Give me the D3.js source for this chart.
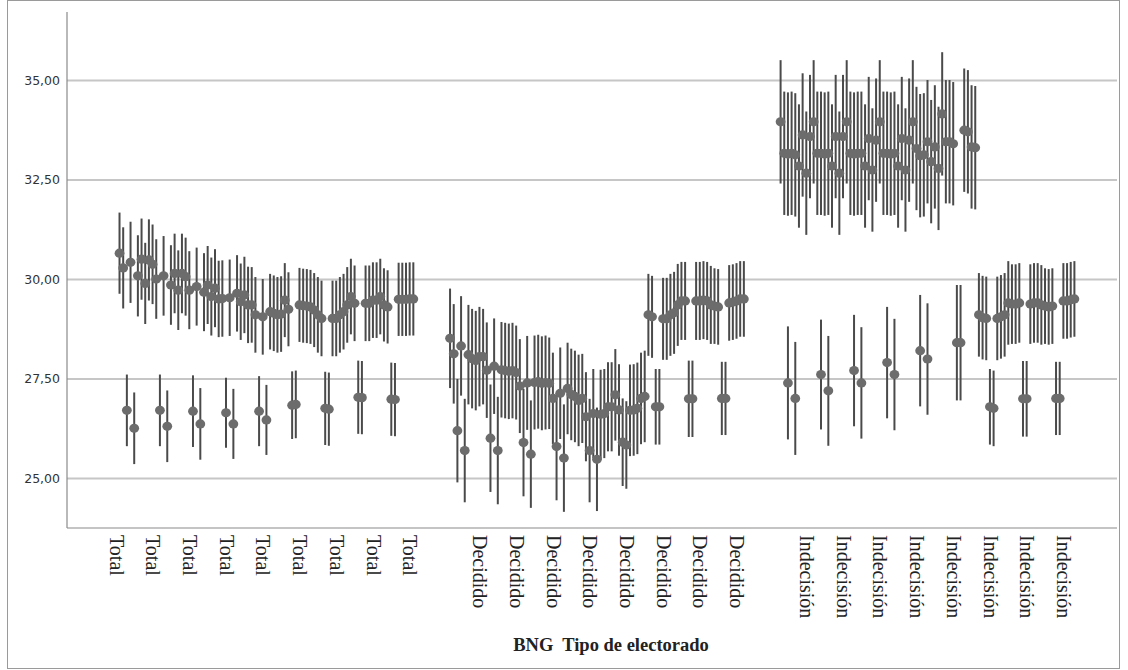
<!DOCTYPE html>
<html><head><meta charset="utf-8">
<script src="https://cdn.jsdelivr.net/npm/d3@7"></script>
<style>html,body{margin:0;padding:0;background:#fff}</style>
</head><body>
<script>
// ---------- DATA ----------
// Each group has 81 categories (9 blocks of 9), null = no bar.
const groupNames = ["Total", "Decidido", "Indecisión"];
const groupFirstCategory = [0, 90, 180];
const groupLabelCategories = [
  [0, 10, 20, 30, 40, 50, 60, 70, 80],
  [99, 109, 119, 129, 139, 149, 159, 169],
  [188, 198, 208, 218, 228, 238, 248, 258]
];
const yTicks = [25, 27.5, 30, 32.5, 35];
const axisTitle = "BNG  Tipo de electorado";

const totalUpper = [
  [30.65, 30.28, null, 30.42, null, 30.08, 30.50, 29.89, 30.48],
  [30.37, 30.00, null, 30.08, null, 29.85, 30.14, 29.72, 30.14],
  [30.06, 29.72, null, 29.81, null, 29.67, 29.85, 29.56, 29.77],
  [29.50, 29.51, null, 29.53, null, 29.64, 29.43, 29.60, 29.35],
  [29.35, 29.10, null, 29.05, null, 29.18, 29.14, 29.10, 29.12],
  [29.47, 29.24, null, null, 29.35, 29.33, 29.32, 29.30, 29.22],
  [29.10, 29.01, null, null, 29.01, 29.01, 29.10, 29.18, 29.35],
  [29.56, 29.39, null, null, 29.39, 29.39, 29.47, 29.47, 29.56],
  [29.35, 29.30, null, null, 29.49, 29.49, 29.49, 29.50, 29.50]
];
const totalLower = [
  [null, null, 26.70, null, 26.25, null, null, null, null],
  [null, null, 26.70, null, 26.30, null, null, null, null],
  [null, null, 26.68, null, 26.36, null, null, null, null],
  [null, null, 26.64, null, 26.36, null, null, null, null],
  [null, null, 26.68, null, 26.46, null, null, null, null],
  [null, null, 26.83, 26.85, null, null, null, null, null],
  [null, null, 26.75, 26.73, null, null, null, null, null],
  [null, null, 27.03, 27.02, null, null, null, null, null],
  [null, null, 26.98, 26.97, null, null, null, null, null]
];
const decididoUpper = [
  [28.51, 28.12, null, 28.32, null, 28.10, 28.00, 27.95, 28.05],
  [28.05, 27.71, null, 27.81, null, 27.72, 27.70, 27.68, 27.70],
  [27.65, 27.31, null, 27.39, null, 27.40, 27.42, 27.38, 27.40],
  [27.38, 27.00, null, 27.13, null, 27.25, 27.10, 27.05, 26.95],
  [27.00, 26.54, null, 26.62, null, 26.60, 26.62, 26.79, 26.79],
  [27.09, 26.71, null, null, 26.70, 26.71, 26.75, 27.00, 27.05],
  [29.10, 29.05, null, null, 29.00, 29.00, 29.10, 29.15, 29.35],
  [29.45, 29.45, null, null, 29.45, 29.45, 29.47, 29.45, 29.35],
  [29.32, 29.30, null, null, 29.40, 29.42, 29.45, 29.50, 29.50]
];
const decididoLower = [
  [null, null, 26.19, null, 25.69, null, null, null, null],
  [null, null, 26.00, null, 25.69, null, null, null, null],
  [null, null, 25.89, null, 25.60, null, null, null, null],
  [null, null, 25.79, null, 25.50, null, null, null, null],
  [null, null, 25.69, null, 25.47, null, null, null, null],
  [null, null, 25.90, 25.83, null, null, null, null, null],
  [null, null, 26.79, 26.79, null, null, null, null, null],
  [null, null, 26.99, 26.99, null, null, null, null, null],
  [null, null, 27.00, 27.00, null, null, null, null, null]
];
const indecisionUpper = [
  [33.95, 33.16, 33.14, 33.16, 33.12, 32.84, 33.62, 32.66, 33.58],
  [33.95, 33.16, 33.16, 33.14, 33.16, 32.84, 33.58, 32.66, 33.58],
  [33.95, 33.16, 33.14, 33.16, 33.16, 32.84, 33.53, 32.74, 33.49],
  [33.95, 33.16, 33.16, 33.14, 33.16, 32.84, 33.53, 32.74, 33.49],
  [33.95, 33.28, 33.10, 33.12, 33.45, 32.95, 33.32, 32.78, 34.15],
  [33.45, 33.45, 33.40, null, null, 33.74, 33.70, 33.32, 33.30],
  [29.10, 29.03, 29.01, null, null, 29.01, 29.05, 29.10, 29.40],
  [29.37, 29.37, 29.40, null, null, 29.37, 29.40, 29.40, 29.35],
  [29.32, 29.30, 29.32, null, null, 29.45, 29.45, 29.48, 29.50]
];
const indecisionLower = [
  [null, null, 27.39, null, 27.00, null, null, null, null],
  [null, null, 27.60, null, 27.19, null, null, null, null],
  [null, null, 27.70, null, 27.39, null, null, null, null],
  [null, null, 27.90, null, 27.60, null, null, null, null],
  [null, null, 28.20, null, 27.99, null, null, null, null],
  [null, null, null, 28.40, 28.40, null, null, null, null],
  [null, null, null, 26.79, 26.75, null, null, null, null],
  [null, null, null, 26.99, 26.99, null, null, null, null],
  [null, null, null, 27.00, 27.00, null, null, null, null]
];
// half-length of the error bar, per block
const totalUpperHalf = [1.02, 1.0, 0.98, 0.96, 0.95, 0.93, 0.95, 0.95, 0.92];
const totalLowerHalf = [0.9, 0.9, 0.9, 0.88, 0.88, 0.85, 0.92, 0.92, 0.92];
const decididoUpperHalf = [1.25, 1.2, 1.18, 1.15, 1.12, 1.15, 1.03, 0.98, 0.95];
const decididoLowerHalf = [1.3, 1.35, 1.35, 1.35, 1.3, 1.1, 0.95, 0.96, 0.92];
const indecisionUpperHalf = [1.55, 1.55, 1.55, 1.55, 1.55, 1.55, 1.05, 1.0, 0.95];
const indecisionLowerHalf = [1.42, 1.38, 1.4, 1.4, 1.4, 1.45, 0.95, 0.95, 0.92];

// ---------- BUILD ----------
const seriesSets = [
  [totalUpper, totalUpperHalf, totalLower, totalLowerHalf],
  [decididoUpper, decididoUpperHalf, decididoLower, decididoLowerHalf],
  [indecisionUpper, indecisionUpperHalf, indecisionLower, indecisionLowerHalf]
];
const points = [];
seriesSets.forEach((set, g) => {
  [[set[0], set[1]], [set[2], set[3]]].forEach(([blocks, halves]) => {
    blocks.forEach((blk, b) => blk.forEach((v, l) => {
      if (v == null) return;
      points.push({cat: groupFirstCategory[g] + b * 9 + l, mean: v, lo: v - halves[b], hi: v + halves[b]});
    }));
  });
});

const W = 1128, H = 670;
const svg = d3.select("body").append("svg").attr("width", W).attr("height", H);
const x = d3.scaleLinear().domain([-14.3, 271.6]).range([67, 1117]);
const y = d3.scaleLinear().domain([23.744, 36.71]).range([528, 12]);

// frame
svg.append("rect").attr("x", 7.5).attr("y", 0.5).attr("width", 1112).attr("height", 668)
  .attr("fill", "none").attr("stroke", "#9a9a9a").attr("stroke-width", 1);

// grid + y labels
const fmt = d => d3.format(".2f")(d).replace(".", ",");
const yAxis = svg.append("g").attr("transform", "translate(67,0)")
  .call(d3.axisLeft(y).tickValues(yTicks).tickSize(-1050).tickFormat(fmt).tickPadding(7));
yAxis.select(".domain").remove();
yAxis.selectAll(".tick line").attr("stroke", "#c6c6c6").attr("stroke-width", 2);
yAxis.selectAll(".tick text").attr("fill", "#333").style("font-family", "'DejaVu Sans', sans-serif").style("font-size", "12.5px");

// axis lines
svg.append("line").attr("x1", 67).attr("x2", 67).attr("y1", y(36.71)).attr("y2", y(23.744))
  .attr("stroke", "#8a8a8a").attr("stroke-width", 1.2);
svg.append("line").attr("x1", 67).attr("x2", 1117).attr("y1", y(23.744)).attr("y2", y(23.744))
  .attr("stroke", "#8a8a8a").attr("stroke-width", 1.2);

// error bars
svg.append("g").selectAll("line").data(points).join("line")
  .attr("x1", d => x(d.cat)).attr("x2", d => x(d.cat))
  .attr("y1", d => y(d.hi)).attr("y2", d => y(d.lo))
  .attr("stroke", "#4a4a4a").attr("stroke-width", 2);
svg.append("g").selectAll("ellipse").data(points).join("ellipse")
  .attr("cx", d => x(d.cat)).attr("cy", d => y(d.mean))
  .attr("rx", 4.9).attr("ry", 4.6).attr("fill", "#6c6c6c");

// x labels
groupNames.forEach((name, g) => {
  svg.append("g").selectAll("text").data(groupLabelCategories[g]).join("text")
    .attr("transform", c => `translate(${x(c)},535) rotate(90)`)
    .attr("dy", "3px")
    .attr("dominant-baseline", "central")
    .attr("fill", "#222")
    .style("font-family", "'Liberation Serif', serif").style("font-size", "20px")
    .text(name);
});

// axis title
svg.append("text").attr("x", 611).attr("y", 651).attr("text-anchor", "middle")
  .attr("fill", "#222").style("font-family", "'Liberation Serif', serif").style("font-weight", "bold")
  .style("white-space", "pre")
  .style("font-size", "18.5px").text(axisTitle);
</script>
</body></html>
